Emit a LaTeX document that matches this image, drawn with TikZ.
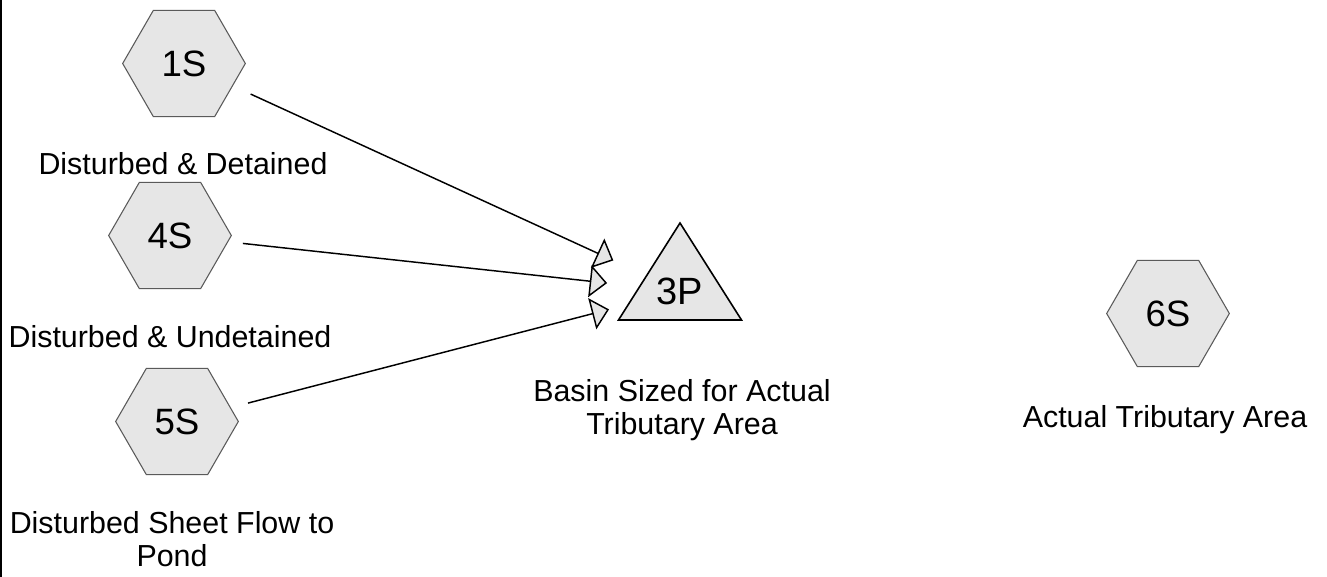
\documentclass[tikz,border=0pt]{standalone}
\usepackage{fontspec}
\setmainfont{Liberation Sans}
\usetikzlibrary{arrows.meta, shapes.geometric, positioning, calc}
\definecolor{hexfill}{HTML}{E6E6E6}
\definecolor{hexline}{HTML}{5A5A5A}

\begin{document}
\begin{tikzpicture}[
    x=0.75pt, y=-0.75pt,
    subcat/.style = {regular polygon, regular polygon sides=6, minimum size=92pt,
      inner sep=0pt, draw=hexline, fill=hexfill, line width=0.8pt,
      font=\fontsize{27.5}{30}\selectfont},
    pond/.style = {draw=black, fill=hexfill, line width=1.2pt, line join=miter},
    tag/.style = {anchor=base, align=center, font=\fontsize{22.8}{24.75}\selectfont},
    pil/.style = {black, line width=1.1pt, shorten <=55pt, shorten >=55pt,
      -{Triangle[length=13pt, width=24pt, fill=hexfill]}}
    ]

  \useasboundingbox (0,0) rectangle (1327,577);
  \draw[line width=1.5pt] (1,0) -- (1,577);

  \node[subcat] (s1) at (184,63.5) {1S} ;
  \node[subcat] (s4) at (170,235.5) {4S} ;
  \node[subcat] (s5) at (177,421.5) {5S} ;
  \node[subcat] (s6) at (1168,313.5) {6S} ;

  \coordinate (p3c) at (680,291) ;
  \draw[pond] ($(p3c)+(0,-68)$) -- ($(p3c)+(61.5,29)$) -- ($(p3c)+(-61.5,29)$) -- cycle ;
  \node[font=\fontsize{28.5}{30}\selectfont] (p3) at (p3c) {3P} ;

  \node[tag] (l1) at (183,175) {Disturbed \& Detained} ;
  \node[tag] (l4) at (170,347) {Disturbed \& Undetained} ;
  \node[tag] (l5) at (172,566) {Disturbed Sheet Flow to\\Pond} ;
  \node[tag] (l3) at (682,434) {Basin Sized for Actual\\Tributary Area} ;
  \node[tag] (l6) at (1165,427) {Actual Tributary Area} ;

  \path
  (s1.center) edge[pil] (p3.center)
  (s4.center) edge[pil] (p3.center)
  (s5.center) edge[pil] (p3.center) ;
\end{tikzpicture}
\end{document}
